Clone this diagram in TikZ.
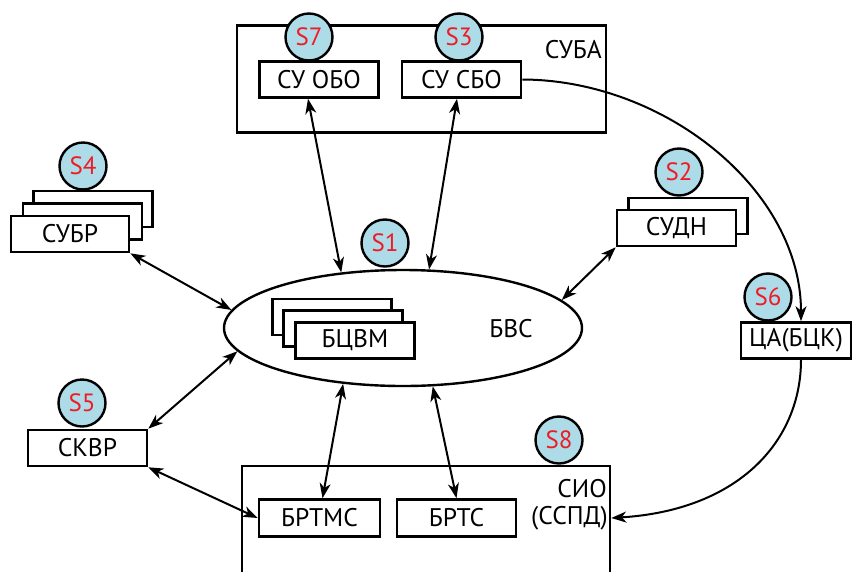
\documentclass[tikz,border=0pt]{standalone}
\usepackage{fontspec}
\setmainfont{PT Sans}
\usetikzlibrary{shapes.geometric,arrows.meta}
\definecolor{sblue}{RGB}{173,220,232}
\definecolor{sred}{RGB}{237,28,36}
\begin{document}
\begin{tikzpicture}[x=1pt,y=-1pt,
  box/.style={draw, line width=2.6pt, fill=white, inner sep=0pt, minimum height=36pt, minimum width=119pt, font=\fontsize{25.5}{28}\selectfont},
  frame/.style={draw, line width=2.6pt, inner sep=0pt},
  lbl/.style={inner sep=0pt, font=\fontsize{25.5}{28}\selectfont},
  sbadge/.style={circle, draw, line width=2.4pt, fill=sblue, minimum size=47pt, inner sep=0pt, text=sred, font=\fontsize{25}{27}\selectfont},
  tip/.tip={Stealth[length=15pt,width=11pt,inset=4.5pt]},
  lnk/.style={line width=2pt, tip-tip},
  one/.style={line width=2pt, -tip}]
\useasboundingbox (0,0) rectangle (854,571);

% СУБА
\node[frame, minimum width=369pt, minimum height=107pt] (suba) at (421.5,79) {};
\node[lbl, anchor=east] (subalbl) at (602,50) {СУБА};
\node[box] (suobo) at (319,79.5) {СУ ОБО};
\node[box] (susbo) at (461.5,79.5) {СУ СБО};
\node[sbadge] (s7) at (309,37) {S7};
\node[sbadge] (s3) at (459,37) {S3};

% СУБР
\node[box] (subr3) at (93,209) {};
\node[box] (subr2) at (82.5,221.5) {};
\node[box, minimum width=118pt] (subr) at (70,234) {СУБР};
\node[sbadge] (s4) at (83,166) {S4};

% СУДН
\node[box] (sudn2) at (688,216) {};
\node[box] (sudn) at (676.5,228) {СУДН};
\node[sbadge] (s2) at (679,172) {S2};

% БВС
\node[ellipse, draw, line width=2.4pt, minimum width=358pt, minimum height=116pt, inner sep=0pt] (bvs) at (403,328) {};
\node[lbl] (bvslbl) at (511,329) {БВС};
\node[box] (bc3) at (332,317) {};
\node[box] (bc2) at (343,328.5) {};
\node[box] (bcvm) at (355,340.5) {БЦВМ};
\node[sbadge] (s1) at (385,243) {S1};

% ЦА(БЦК)
\node[box, minimum width=110pt] (ca) at (796,340.5) {ЦА(БЦК)};
\node[sbadge] (s6) at (768,297) {S6};

% СКВР
\node[box] (skvr) at (87.5,448) {СКВР};
\node[sbadge] (s5) at (82,403) {S5};

% СИО
\node[frame, minimum width=368pt, minimum height=140pt] (sio) at (426,536) {};
\node[lbl, anchor=east] (siolbl1) at (607,489) {СИО};
\node[lbl, anchor=east] (siolbl2) at (608,518) {(ССПД)};
\node[box, minimum width=121pt, minimum height=37pt] (brtms) at (319.5,518) {БРТМС};
\node[box, minimum height=37pt] (brts) at (456.5,518) {БРТС};
\node[sbadge] (s8) at (559,440) {S8};

% connectors
\draw[lnk] ([xshift=-11pt]suobo.south) -- (bvs.138);
\draw[lnk] ([xshift=-4.5pt]susbo.south) -- (bvs.66.7);
\draw[lnk] (subr.south east) -- (bvs.174);
\draw[lnk] (sudn.south west) -- (bvs.10);
\draw[lnk] (skvr.north east) -- (bvs.188.8);
\draw[lnk] (skvr.south east) -- (brtms.west);
\draw[lnk] (bvs.223.6) -- ([xshift=3pt]brtms.north);
\draw[lnk] (bvs.297.4) -- (brts.north);
\draw[one] (susbo.east) .. controls (665,80) and (801,190) .. ([xshift=5pt]ca.north);
\draw[one] ([xshift=5pt]ca.south) .. controls (801,440) and (740,510) .. (sio.east |- brtms.center);
\end{tikzpicture}
\end{document}
